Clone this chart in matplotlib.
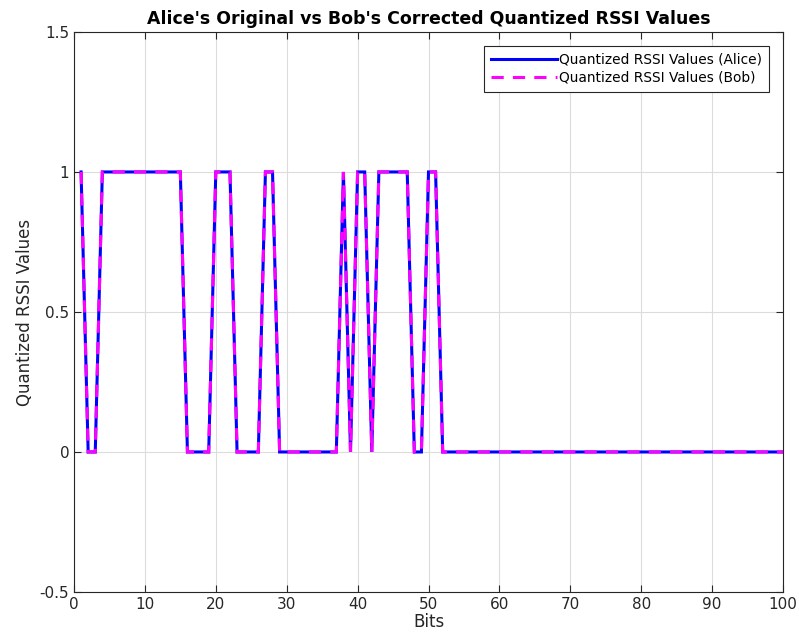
import numpy as np
import matplotlib
matplotlib.use("Agg")
import matplotlib.pyplot as plt

# quantized bits, indexed 1..100
bits = np.arange(1, 101)
ones_idx = [1, 4, 5, 6, 7, 8, 9, 10, 11, 12, 13, 14, 15,
            20, 21, 22, 27, 28, 38, 40, 41, 43, 44, 45, 46, 47, 50, 51]
alice = np.zeros(100)
alice[np.array(ones_idx) - 1] = 1
bob = alice.copy()

fig = plt.figure(figsize=(7.99, 6.39), dpi=100)
ax = fig.add_axes([0.0926, 0.0736, 0.8874, 0.8764])

ax.plot(bits, alice, color='#0000ff', linewidth=2.2, solid_joinstyle='miter',
        label='Quantized RSSI Values (Alice)')
ax.plot(bits, bob, color='#ff00ff', linewidth=2.2, linestyle=(0, (4, 3)),
        dash_joinstyle='miter', label='Quantized RSSI Values (Bob)')

ax.set_xlim(0, 100)
ax.set_ylim(-0.5, 1.5)
ax.set_xticks(np.arange(0, 101, 10))
ax.set_yticks([-0.5, 0, 0.5, 1, 1.5])
ax.set_yticklabels(['-0.5', '0', '0.5', '1', '1.5'])
ax.tick_params(direction='in', top=True, right=True, labelsize=11, length=5,
               color='#262626', labelcolor='#262626')
ax.grid(True, color='#dcdcdc', linewidth=0.8)
for s in ax.spines.values():
    s.set_color('#262626')
    s.set_linewidth(0.8)

ax.set_xlabel('Bits', fontsize=12, color='#262626', labelpad=1)
ax.set_ylabel('Quantized RSSI Values', fontsize=12, color='#262626')
ax.set_title("Alice's Original vs Bob's Corrected Quantized RSSI Values",
             fontsize=12.5, fontweight='bold', pad=6)

leg = ax.legend(loc='upper right', fontsize=9.9, fancybox=False, framealpha=1,
                edgecolor='#262626', handlelength=4.8, handletextpad=0.15,
                borderaxespad=1.0, borderpad=0.5, labelspacing=0.3)
leg.get_frame().set_linewidth(0.8)

fig.savefig('out.png', dpi=100)
